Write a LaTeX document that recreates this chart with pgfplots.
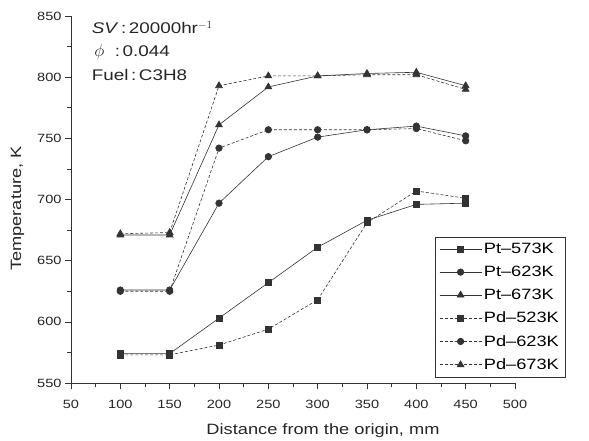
\documentclass[border=0pt]{standalone}
\usepackage{pgfplots}
\pgfplotsset{compat=1.18}
\usepackage{fontspec}
\setmainfont[FakeStretch=1.22]{Liberation Sans}
\begin{document}
\begin{tikzpicture}
\useasboundingbox (-71bp,-58bp) rectangle (518bp,383bp);
\begin{axis}[
  scale only axis, width=444bp, height=367bp,
  xmin=50, xmax=500, ymin=550, ymax=850,
  axis x line*=bottom, axis y line*=left,
  axis line style={black!80, line width=0.7pt},
  xtick={50,100,...,500}, ytick={550,600,...,850},
  minor x tick num=1, minor y tick num=1,
  tick align=outside, major tick length=6bp, minor tick length=4bp,
  tick style={black!80, line width=0.6pt},
  /pgf/number format/assume math mode=true,
  /pgf/number format/1000 sep={},
  tick label style={font=\fontsize{12}{14}\selectfont, text=black!85},
  xticklabel style={yshift=-8bp},
  label style={font=\fontsize{15}{18}\selectfont, text=black!85},
  xlabel={Distance from the origin, mm},
  ylabel={Temperature, K},
  xlabel style={xshift=30bp, yshift=-8bp},
  ylabel style={xshift=-9bp, yshift=6bp},
  legend style={at={(rel axis cs:0.82,0.016)}, anchor=south west,
    draw=black!80, font=\fontsize{15}{17}\selectfont, row sep=7bp,
    inner xsep=4bp, inner ysep=4bp},
  legend cell align=left,
  every axis plot/.append style={black!80, line width=0.6pt},
  legend image code/.code={\draw[#1] (0bp,0bp) -- (42bp,0bp); \draw[#1, mark repeat=2, mark phase=2] plot coordinates {(0bp,0bp) (21bp,0bp) (42bp,0bp)};},
]
\addplot[solid, mark=square*, mark size=3pt, mark options={solid}] coordinates {(100,574)(150,574)(200,603)(250,632)(300,661)(350,683)(400,696)(450,697)};
\addlegendentry{Pt–573K}
\addplot[solid, mark=*, mark size=3.3pt, mark options={solid}] coordinates {(100,626)(150,626)(200,697)(250,735)(300,751)(350,757)(400,760)(450,752)};
\addlegendentry{Pt–623K}
\addplot[solid, mark=triangle*, mark size=4pt, mark options={solid}] coordinates {(100,671)(150,671)(200,761)(250,792)(300,801)(350,803)(400,804)(450,793)};
\addlegendentry{Pt–673K}
\addplot[densely dashed, mark=square*, mark size=3pt, mark options={solid}] coordinates {(100,573)(150,573)(200,581)(250,594)(300,618)(350,681)(400,707)(450,701)};
\addlegendentry{Pd–523K}
\addplot[densely dashed, mark=*, mark size=3.3pt, mark options={solid}] coordinates {(100,625)(150,625)(200,742)(250,757)(300,757)(350,757)(400,758)(450,748)};
\addlegendentry{Pd–623K}
\addplot[densely dashed, mark=triangle*, mark size=4pt, mark options={solid}] coordinates {(100,672)(150,673)(200,793)(250,801)(300,801)(350,802)(400,802)(450,790)};
\addlegendentry{Pd–673K}
\node[anchor=north west, align=left, font=\fontsize{15.5}{23.5}\selectfont, text=black!85, inner sep=0pt] at (axis cs:71,846) {\textit{SV}\,:\,20000hr$^{-1}$\\ \,{\fontsize{18.5}{23.5}\selectfont$\phi$}\ \ :\,0.044\\ Fuel\,:\,C3H8};
\end{axis}
\end{tikzpicture}
\end{document}
